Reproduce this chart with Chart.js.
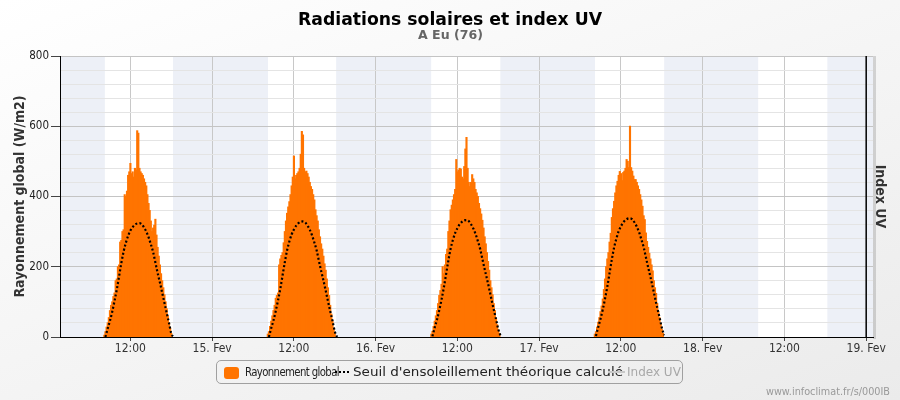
<!DOCTYPE html>
<html><head><meta charset="utf-8">
<script src="https://cdn.jsdelivr.net/npm/chart.js@4.4.1/dist/chart.umd.min.js"></script>
<style>
html,body{margin:0;padding:0;}
body{width:900px;height:400px;overflow:hidden;}
#wrap{position:relative;width:900px;height:400px;background:linear-gradient(160deg,#ffffff 0%,#f6f6f6 45%,#ebebeb 100%);font-family:'DejaVu Sans',sans-serif;}
#c{position:absolute;left:0;top:0;}
.t{position:absolute;white-space:nowrap;transform-origin:0 50%;}
#title{font-weight:bold;font-size:18px;line-height:20px;top:9px;color:#000;}
#sub{font-weight:bold;font-size:12px;line-height:14px;top:28px;color:#666;}
#leg{position:absolute;left:216px;top:360px;width:467px;height:24px;box-sizing:border-box;border:1px solid #a0a0a0;border-radius:5px;overflow:hidden;}
#leg .t{font-size:12px;line-height:14px;top:4px;color:#222;}
#sw{position:absolute;left:7px;top:6px;width:15px;height:12px;border-radius:3px;background:#ff7400;}
#dots{position:absolute;left:118px;top:10px;width:14px;height:2px;background:repeating-linear-gradient(to right,#000 0 2px,transparent 2px 4px);}
#gl{position:absolute;left:391px;top:10px;width:17px;height:2px;background:#c8c8c8;}
#credit{font-size:10px;line-height:12px;top:386px;color:#999;}
</style></head>
<body><div id="wrap">
<canvas id="c" width="900" height="400"></canvas>
<span class="t" id="title">Radiations solaires et index UV</span>
<span class="t" id="sub">A Eu (76)</span>
<div id="leg">
 <div id="sw"></div>
 <span class="t" id="l1" style="left:28px;font-size:11.5px;letter-spacing:-0.7px">Rayonnement global</span>
 <div id="dots"></div>
 <span class="t" id="l2" style="left:136px">Seuil d'ensoleillement théorique calculé</span>
 <div id="gl"></div>
 <span class="t" id="l3" style="left:410px;color:#a8a8a8">Index UV</span>
</div>
<span class="t" id="credit">www.infoclimat.fr/s/000IB</span>
</div>
<script>
// ---- data (hours counted from 14 Feb 00:00) ----
const xTickHours  = [12, 24, 36, 48, 60, 72, 84, 96, 108, 120];
const xTickLabels = ['12:00','15. Fev','12:00','16. Fev','12:00','17. Fev','12:00','18. Fev','12:00','19. Fev'];
const yTickValues = [0, 200, 400, 600, 800];
const nightStart  = [1.667, 18.25, 42.2, 66.3, 90.35, 114.3];
const nightEnd    = [8.25, 32.2, 56.15, 80.2, 104.15, 121];
const markerHour  = 120;

// Rayonnement global, 10-minute values, first value at 08:10 each day
const dayFirstBar = [8.1667, 32.1667, 56.1667, 80.1667];
const ray14 = [5,15,28,40,55,75,90,100,115,125,160,165,200,205,270,275,300,305,405,400,415,460,470,494,465,470,455,480,475,587,580,480,470,465,460,450,440,430,405,380,360,330,300,310,318,335,290,255,230,205,180,160,140,120,100,80,60,40,25,10];
const ray15 = [8,15,30,45,60,75,90,110,118,125,205,222,232,240,268,300,330,352,370,385,405,430,455,515,450,460,465,470,480,520,585,575,480,470,472,465,455,440,428,420,405,390,362,345,330,305,285,265,250,230,208,190,165,140,118,90,65,45,25,10];
const ray16 = [8,16,30,45,60,75,95,118,132,150,200,180,205,235,250,300,330,362,375,390,405,420,505,470,475,480,478,455,450,485,535,568,480,440,428,440,462,450,440,420,410,400,380,365,350,332,310,285,265,240,215,190,160,140,120,95,75,52,35,20,10];
const ray17 = [8,15,28,42,55,72,88,108,135,165,200,222,240,270,295,340,365,386,410,430,443,460,471,465,445,468,472,480,505,500,482,600,482,472,458,448,448,440,430,420,405,390,372,345,334,296,272,255,238,222,205,188,160,140,124,95,72,55,36,22,10];

// Seuil théorique, 20-minute values from 08:20 to 18:20 each day
const seuilFirst = [8.3333, 32.3333, 56.3333, 80.3333];
const seuil14 = [0,24,46,72,102,135,172,210,243,268,288,303,313,320,323,324,321,312,300,284,264,242,212,182,155,126,97,68,40,10,0];
const seuil15 = [0,25,47,74,104,137,175,213,247,272,292,306,317,324,328,329,326,317,305,289,269,247,217,188,161,132,102,73,46,16,0];
const seuil16 = [2,27,49,76,106,140,178,217,251,276,296,310,321,328,332,333,330,321,309,293,273,251,222,193,166,137,107,78,51,22,3];
const seuil17 = [3,28,51,78,109,143,182,221,255,280,301,315,326,333,337,338,335,326,314,298,278,256,227,198,171,142,112,83,56,27,5];

const rayDays = [ray14, ray15, ray16, ray17];
const seuilDays = [seuil14, seuil15, seuil16, seuil17];
const barPts = [];
rayDays.forEach((arr, d) => arr.forEach((v, i) => barPts.push({x: dayFirstBar[d] + i / 6, y: v})));
const seuilPts = [];
seuilDays.forEach((arr, d) => { arr.forEach((v, i) => seuilPts.push({x: seuilFirst[d] + i / 3, y: v})); seuilPts.push({x: seuilFirst[d] + 11, y: null}); });

// ---- text fitting ----
function fit(id, w, cx, right) {
  const el = document.getElementById(id);
  const nat = el.getBoundingClientRect().width;
  const s = w / nat;
  el.style.transform = 'scaleX(' + s + ')';
  if (cx !== undefined) el.style.left = (cx - w / 2) + 'px';
  if (right !== undefined) el.style.left = (right - w) + 'px';
  return s;
}
fit('title', 304, 450);
fit('sub', 65, 450);
fit('l1', 94);
fit('l2', 270);
fit('credit', 124, undefined, 890);

const FONT = "'DejaVu Sans Condensed', 'DejaVu Sans', sans-serif";

const bgPlugin = {
  id: 'bg',
  beforeDraw(chart) {
    const {ctx, chartArea: a, scales: {x}} = chart;
    ctx.save();
    ctx.fillStyle = '#ffffff';
    ctx.fillRect(a.left, a.top, a.right - a.left, a.bottom - a.top);
    ctx.fillStyle = '#edf0f7';
    nightStart.forEach((s, i) => {
      const x0 = Math.max(a.left, x.getPixelForValue(s));
      const x1 = Math.min(a.right, x.getPixelForValue(nightEnd[i]));
      ctx.fillRect(x0, a.top, x1 - x0, a.bottom - a.top);
    });
    ctx.fillStyle = 'rgba(0,0,0,0.14)';
    ctx.fillRect(a.right, a.top, 3, a.bottom - a.top + 2);
    ctx.restore();
  },
  afterDatasetsDraw(chart) {
    const {ctx, chartArea: a, scales: {x}} = chart;
    const px = x.getPixelForValue(markerHour);
    ctx.save();
    ctx.strokeStyle = '#000';
    ctx.lineWidth = 1.5;
    ctx.beginPath(); ctx.moveTo(px, a.top); ctx.lineTo(px, a.bottom); ctx.stroke();
    ctx.restore();
  }
};

new Chart(document.getElementById('c'), {
  type: 'bar',
  data: {
    datasets: [
      {type: 'line', label: "Seuil d'ensoleillement théorique calculé", data: seuilPts, borderColor: '#000', borderWidth: 2.2,
       borderDash: [2, 2.2], pointRadius: 0, cubicInterpolationMode: 'monotone', spanGaps: false, order: 0, yAxisID: 'y'},
      {type: 'bar', label: 'Rayonnement global', data: barPts, backgroundColor: '#ff7400', borderWidth: 0,
       barPercentage: 1, categoryPercentage: 1, inflateAmount: 0.5, grouped: false, order: 1, yAxisID: 'y'}
    ]
  },
  options: {
    responsive: false, animation: false, devicePixelRatio: 1,
    layout: {padding: {top: 56, bottom: 43, left: 0, right: 0}},
    plugins: {legend: {display: false}, tooltip: {enabled: false}, title: {display: false}},
    scales: {
      x: {
        type: 'linear', min: 1.667, max: 121, offset: false,
        afterBuildTicks: s => { s.ticks = xTickHours.map(v => ({value: v})); },
        afterFit: s => { s.height = 20; },
        ticks: {autoSkip: false, maxRotation: 0, padding: 1, color: '#333', font: {family: FONT, size: 12},
                callback: v => xTickLabels[xTickHours.indexOf(v)] ?? ''},
        grid: {color: '#c8c8c8', tickColor: '#444', tickLength: 4, offset: false},
        border: {display: true, color: '#000', width: 1}
      },
      y: {
        position: 'left', min: 0, max: 800,
        afterFit: s => { s.width = 60; },
        ticks: {stepSize: 40, autoSkip: false, padding: 2, color: '#222', font: {family: FONT, size: 11.5},
                callback: v => yTickValues.includes(v) ? String(v) : ''},
        grid: {color: c => (c.tick && yTickValues.includes(c.tick.value)) ? '#c4c4c4' : '#e4e4e4',
               tickColor: c => (c.tick && yTickValues.includes(c.tick.value)) ? '#444' : 'rgba(0,0,0,0)', tickLength: 9},
        border: {display: true, color: '#000', width: 1},
        title: {display: true, text: 'Rayonnement global (W/m2)', color: '#333', font: {family: FONT, size: 14, weight: 'bold'}, padding: {top: 11.6, bottom: 0}}
      },
      y2: {
        position: 'right', min: 0, max: 10,
        afterFit: s => { s.width = 27; },
        ticks: {display: false},
        grid: {display: false, drawOnChartArea: false, drawTicks: false},
        border: {display: false},
        title: {display: true, text: 'Index UV', color: '#333', font: {family: FONT, size: 14, weight: 'bold'}, padding: {top: 11.6, bottom: 0}}
      }
    }
  },
  plugins: [bgPlugin]
});
</script>
</body></html>
